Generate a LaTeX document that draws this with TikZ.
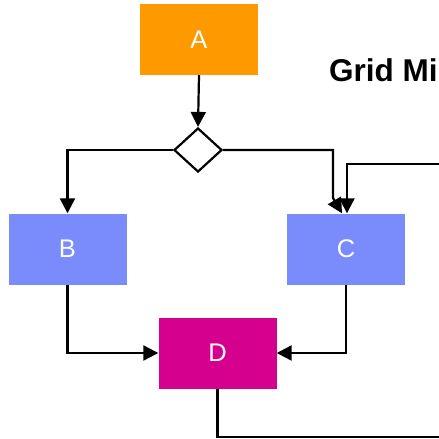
\documentclass[tikz,border=0pt]{standalone}
\usepackage{fontspec}
\setmainfont{Liberation Sans}
\usetikzlibrary{arrows.meta,shapes.geometric}
\definecolor{cA}{RGB}{255,153,0}
\definecolor{cBC}{RGB}{122,139,252}
\definecolor{cD}{RGB}{214,0,143}
\tikzset{
  box/.style={rectangle, minimum width=118pt, minimum height=71pt, inner sep=0pt, text=white, font=\fontsize{25.5}{25.5}\selectfont},
  dec/.style={diamond, draw=black, line width=2.2pt, fill=white, minimum width=48pt, minimum height=44pt, inner sep=0pt, aspect=1.1},
  conn/.style={draw=black, line width=2.2pt},
  arr/.style={conn, -{Triangle[length=15pt,width=15pt]}},
}
\begin{document}
\begin{tikzpicture}[x=1pt,y=-1pt]
\useasboundingbox (0,0) rectangle (439,439);
\node[box, fill=cA] (A) at (199,39.5) {A};
\node[dec] (dia) at (198,150) {};
\node[box, fill=cBC] (B) at (67.5,249) {B};
\node[box, fill=cBC] (C) at (346,249) {C};
\node[box, fill=cD] (D) at (217.5,353) {D};
\node[anchor=base west, inner sep=0pt, font=\bfseries\fontsize{31.5}{31.5}\selectfont] (title) at (329,81) {Grid Mi};
\coordinate (in1) at (442,164);
\coordinate (out1) at (442,437);
\coordinate (k1) at (333,150);
\coordinate (k2) at (333,198);
\draw[arr] (A.south) -- (dia.north);
\draw[arr] (dia.west) -| (B.north);
\draw[arr] (dia.east) -- (k1) -- (k2) -- ([xshift=-4pt]C.north);
\draw[arr] (in1) -| ([xshift=1pt]C.north);
\draw[arr] (B.south) |- (D.west);
\draw[arr] (C.south) |- (D.east);
\draw[conn] (D.south) |- (out1);
\end{tikzpicture}
\end{document}
